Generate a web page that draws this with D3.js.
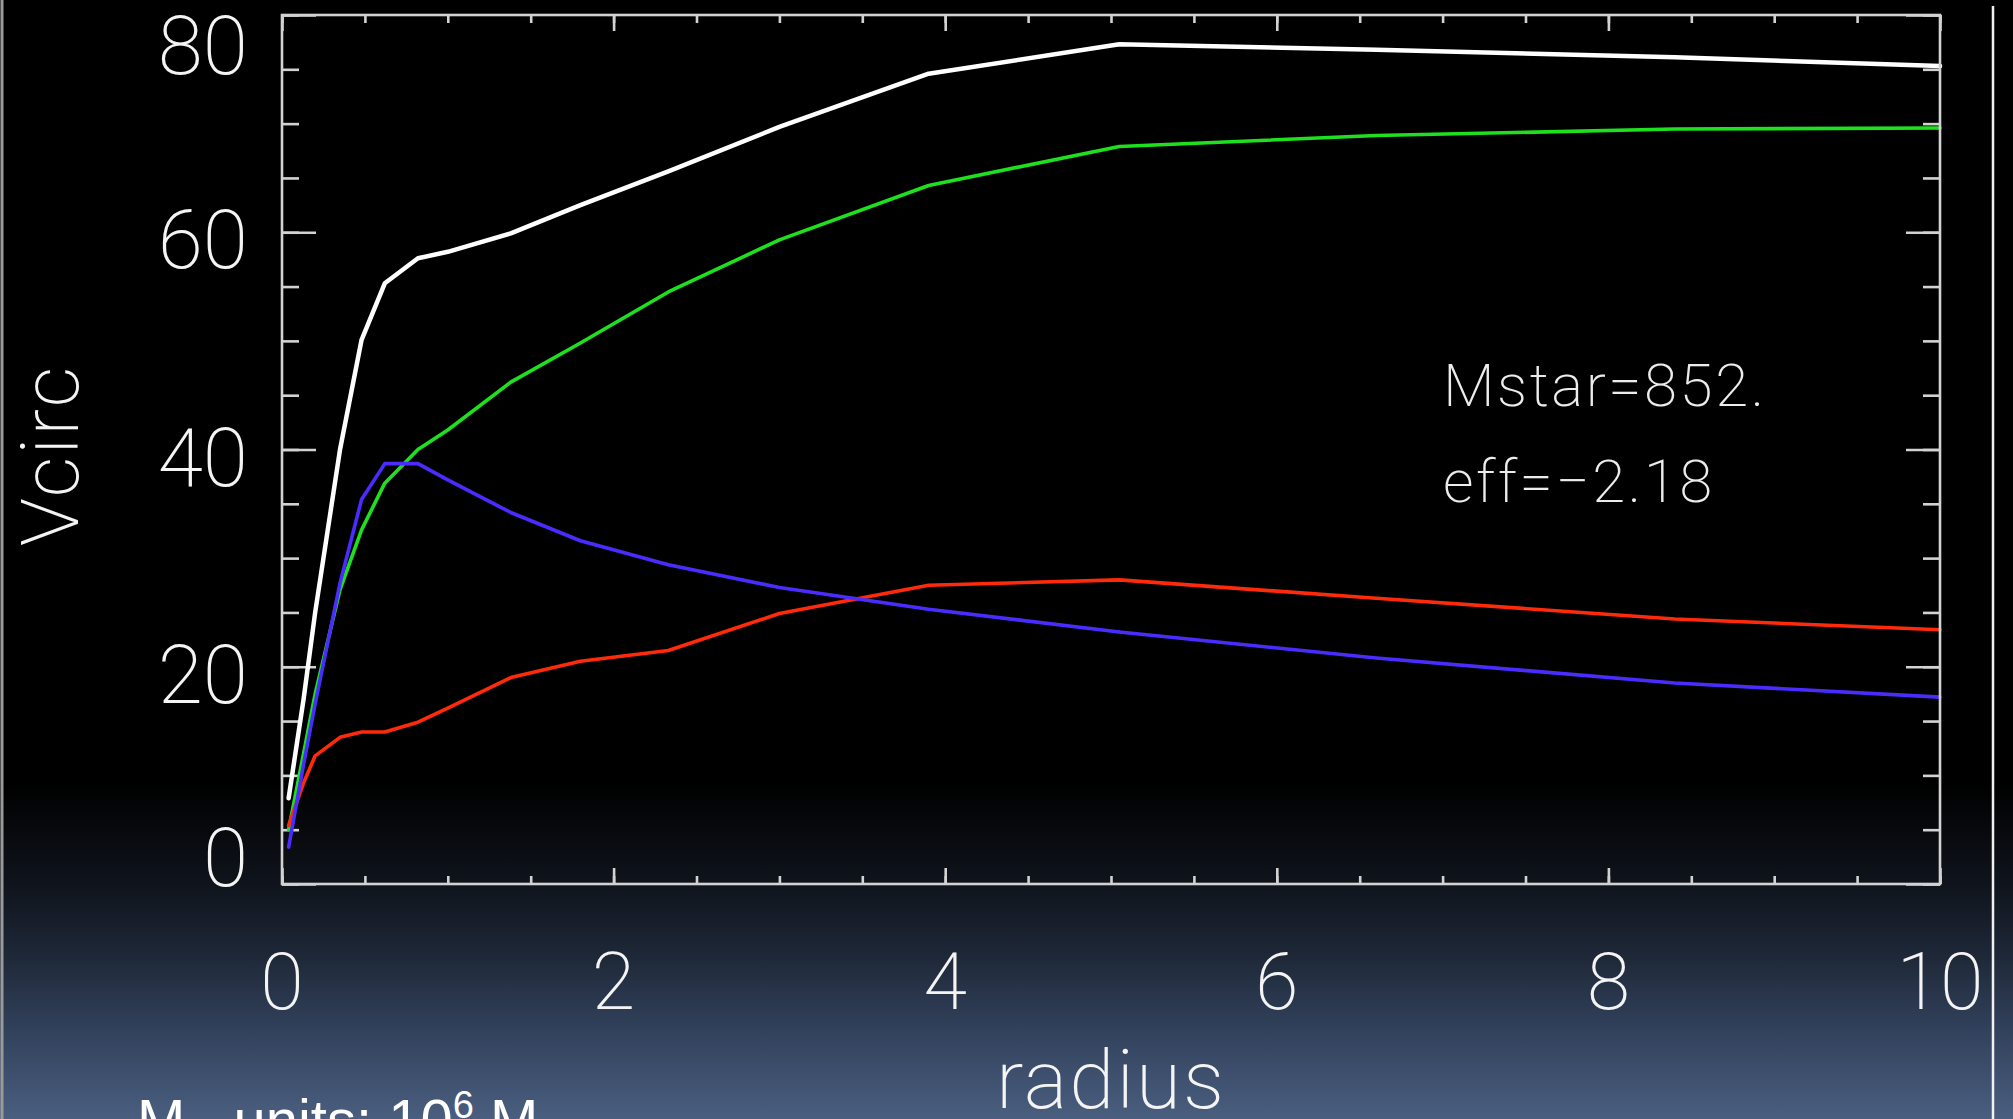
<!DOCTYPE html>
<html>
<head>
<meta charset="utf-8">
<script src="https://cdn.jsdelivr.net/npm/d3@7"></script>
<style>
  html, body { margin: 0; padding: 0; background: #000; overflow: hidden; }
  svg { display: block; }
</style>
</head>
<body>
<svg id="chart" width="2013" height="1119"></svg>
<script>
// Circular velocity profiles versus radius
const radius = [0.04, 0.13, 0.2, 0.35, 0.48, 0.62, 0.82, 1.0, 1.38, 1.8, 2.33, 3.0, 3.9, 5.05, 6.6, 8.4, 10.0];
const vTotal = [7.9, 17.0, 25.0, 40.0, 50.1, 55.3, 57.6, 58.2, 59.9, 62.5, 65.6, 69.7, 74.6, 77.3, 76.8, 76.1, 75.3];
const vDark  = [5.0, 12.0, 17.5, 27.1, 32.6, 36.9, 40.0, 41.8, 46.2, 49.8, 54.5, 59.3, 64.3, 67.9, 68.9, 69.5, 69.6];
const vStars = [3.4, 11.0, 16.6, 27.7, 35.4, 38.7, 38.7, 37.2, 34.2, 31.6, 29.4, 27.3, 25.3, 23.2, 20.8, 18.5, 17.2];
const vGas   = [5.4, 9.3, 11.8, 13.5, 14.0, 14.0, 14.9, 16.2, 19.0, 20.5, 21.5, 24.9, 27.5, 28.0, 26.3, 24.4, 23.4];

const xTickLabels = [0, 2, 4, 6, 8, 10];
const yTickLabels = [0, 20, 40, 60, 80];
const annotations = ["Mstar=852.", "eff=\u22122.18"];

const series = [
  { values: vTotal, color: "#ffffff", width: 4.5 },
  { values: vDark,  color: "#1ee01e", width: 3.6 },
  { values: vGas,   color: "#ff2a0a", width: 3.6 },
  { values: vStars, color: "#4a2cff", width: 3.6 }
];

const W = 2013, H = 1119;
const margin = { left: 282, right: 73, top: 15, bottom: 235 };
const svg = d3.select("#chart");

// slide background: black fading to slate blue at the bottom
const defs = svg.append("defs");
const grad = defs.append("linearGradient")
  .attr("id", "bg").attr("x1", 0).attr("y1", 0).attr("x2", 0).attr("y2", 1);
[[0, "#000000"], [0.70, "#000000"], [0.79, "#0f141c"], [0.855, "#1e2838"],
 [0.925, "#33435e"], [1, "#4a5e7f"]].forEach(([o, c]) =>
  grad.append("stop").attr("offset", o).attr("stop-color", c));
svg.append("rect").attr("width", W).attr("height", H).attr("fill", "url(#bg)");

// slide edges
svg.append("line").attr("x1", 2).attr("x2", 2).attr("y1", 0).attr("y2", H)
  .attr("stroke", "#9a9a9a").attr("stroke-width", 3);
svg.append("line").attr("x1", 1993).attr("x2", 1993).attr("y1", 6).attr("y2", H)
  .attr("stroke", "#f0f0f0").attr("stroke-width", 2.5);

const x = d3.scaleLinear().domain([0, 10]).range([margin.left, W - margin.right]);
const y = d3.scaleLinear().domain([0, 80]).range([H - margin.bottom, margin.top]);

const axisColor = "#d2d2d2";
const tickFont = "Roboto, 'Liberation Sans', sans-serif";
const tickWeight = 200;

function styleAxis(g) {
  g.select(".domain").remove();
  g.selectAll(".tick line").attr("stroke", axisColor).attr("stroke-width", 2.6);
  g.selectAll(".tick text").remove();
}

const xMinor = d3.range(0, 10.001, 0.5);
const xMajor = d3.range(0, 10.001, 2);
const yMinor = d3.range(0, 80.001, 5);
const yMajor = d3.range(0, 80.001, 20);

// ticks on all four sides, pointing inward
svg.append("g").attr("transform", `translate(0,${y(0)})`)
  .call(d3.axisBottom(x).tickValues(xMinor).tickSize(-8).tickFormat("")).call(styleAxis);
svg.append("g").attr("transform", `translate(0,${y(0)})`)
  .call(d3.axisBottom(x).tickValues(xMajor).tickSize(-16).tickFormat("")).call(styleAxis);
svg.append("g").attr("transform", `translate(0,${y(80)})`)
  .call(d3.axisTop(x).tickValues(xMinor).tickSize(-8).tickFormat("")).call(styleAxis);
svg.append("g").attr("transform", `translate(0,${y(80)})`)
  .call(d3.axisTop(x).tickValues(xMajor).tickSize(-16).tickFormat("")).call(styleAxis);
svg.append("g").attr("transform", `translate(${x(0)},0)`)
  .call(d3.axisLeft(y).tickValues(yMinor).tickSize(-17).tickFormat("")).call(styleAxis);
svg.append("g").attr("transform", `translate(${x(0)},0)`)
  .call(d3.axisLeft(y).tickValues(yMajor).tickSize(-34).tickFormat("")).call(styleAxis);
svg.append("g").attr("transform", `translate(${x(10)},0)`)
  .call(d3.axisRight(y).tickValues(yMinor).tickSize(-17).tickFormat("")).call(styleAxis);
svg.append("g").attr("transform", `translate(${x(10)},0)`)
  .call(d3.axisRight(y).tickValues(yMajor).tickSize(-34).tickFormat("")).call(styleAxis);

// curves
const line = d3.line().x((d, i) => x(radius[i])).y(d => y(d));
series.forEach(s => {
  svg.append("path").datum(s.values)
    .attr("d", line)
    .attr("fill", "none")
    .attr("stroke", s.color)
    .attr("stroke-width", s.width)
    .attr("stroke-linejoin", "round")
    .attr("stroke-linecap", "round");
});

// frame
svg.append("rect")
  .attr("x", x(0)).attr("y", y(80))
  .attr("width", x(10) - x(0)).attr("height", y(0) - y(80))
  .attr("fill", "none").attr("stroke", axisColor).attr("stroke-width", 2.6);

// y tick labels (kept inside the frame's vertical extent)
svg.append("g").selectAll("text").data(yTickLabels).join("text")
  .attr("x", x(0) - 34)
  .attr("y", d => Math.min(Math.max(y(d) + 7, y(80) + 30), y(0) - 27) + 29)
  .attr("text-anchor", "end")
  .attr("fill", "#f4f4f4")
  .attr("font-family", tickFont).attr("font-weight", tickWeight)
  .attr("font-size", 82)
  .text(d => d);

// x tick labels
svg.append("g").selectAll("text").data(xTickLabels).join("text")
  .attr("x", d => x(d))
  .attr("y", 1009)
  .attr("text-anchor", "middle")
  .attr("fill", "#f4f4f4")
  .attr("font-family", tickFont).attr("font-weight", tickWeight)
  .attr("font-size", 79)
  .text(d => d);

// axis titles
svg.append("text")
  .attr("x", (x(0) + x(10)) / 2).attr("y", 1108)
  .attr("text-anchor", "middle")
  .attr("fill", "#f4f4f4")
  .attr("font-family", tickFont).attr("font-weight", tickWeight)
  .attr("font-size", 82)
  .attr("letter-spacing", 2)
  .text("radius");

svg.append("text")
  .attr("transform", `translate(78,${(y(0) + y(80)) / 2 + 6}) rotate(-90)`)
  .attr("text-anchor", "middle")
  .attr("fill", "#f4f4f4")
  .attr("font-family", tickFont).attr("font-weight", tickWeight)
  .attr("font-size", 80)
  .attr("letter-spacing", 2)
  .text("Vcirc");

// in-plot annotations
svg.append("g").selectAll("text").data(annotations).join("text")
  .attr("x", 1443)
  .attr("y", (d, i) => 406 + i * 96)
  .attr("fill", "#ececec")
  .attr("font-family", tickFont).attr("font-weight", tickWeight)
  .attr("font-size", 60)
  .attr("letter-spacing", 2.5)
  .text(d => d);

// unit note along the slide's bottom edge
const note = svg.append("text")
  .attr("x", 137).attr("y", 1140)
  .attr("fill", "#ffffff")
  .attr("font-family", "'Liberation Sans', Arial, sans-serif")
  .attr("font-size", 58);
note.append("tspan").text("M");
note.append("tspan").attr("dy", 14).attr("font-size", 38).text("\u2299");
note.append("tspan").attr("dy", -14).text(" units: 10");
note.append("tspan").attr("dy", -22).attr("font-size", 38).text("6");
note.append("tspan").attr("dy", 22).text(" M");
note.append("tspan").attr("dy", 14).attr("font-size", 38).text("\u2299");
</script>
</body>
</html>
